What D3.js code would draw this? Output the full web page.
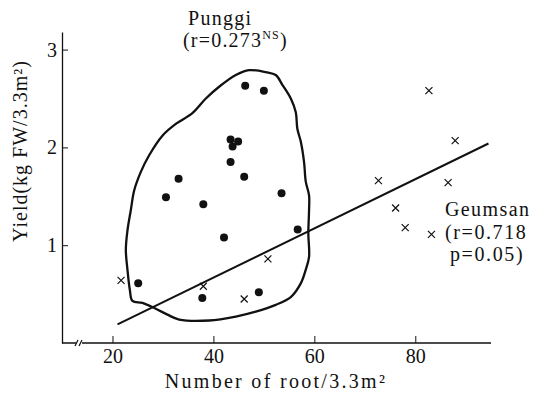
<!DOCTYPE html>
<html>
<head>
<meta charset="utf-8">
<script src="https://cdn.jsdelivr.net/npm/d3@7"></script>
<style>
  html, body { margin: 0; padding: 0; background: #fff; }
  svg { display: block; }
</style>
</head>
<body>
<svg id="chart" width="541" height="396"></svg>
<script>
// ---- Data ----
// Punggi (filled circles)
const punggiX = [46.3, 50.0, 43.4, 44.9, 43.8, 43.4, 46.1, 33.1, 30.6, 38.0, 53.5, 56.7, 42.1, 25.1, 37.8, 49.0];
const punggiY = [2.63, 2.58, 2.08, 2.06, 2.01, 1.85, 1.70, 1.68, 1.49, 1.42, 1.53, 1.16, 1.08, 0.61, 0.46, 0.52];
// Geumsan (crosses)
const geumsanX = [21.7, 38.0, 46.1, 50.8, 82.7, 87.9, 72.7, 86.5, 76.1, 78.0, 83.2];
const geumsanY = [0.64, 0.58, 0.45, 0.86, 2.58, 2.07, 1.66, 1.64, 1.38, 1.18, 1.11];
// Geumsan regression line endpoints
const regX = [21.0, 94.5];
const regY = [0.19, 2.04];
// Hand-drawn envelope around Punggi points
const envX = [47.07, 50.38, 52.36, 53.66, 55.33, 56.32, 56.63, 57.31, 57.96, 58.30, 58.95, 58.95, 58.81, 58.95, 58.30, 57.31, 55.33, 52.36, 48.40, 44.44, 39.15, 33.21, 30.89, 28.59, 25.94, 23.96, 23.45, 22.97, 22.65, 22.97, 23.64, 24.30, 25.62, 27.27, 29.90, 32.55, 35.84, 38.50, 41.13, 44.44];
const envY = [2.79, 2.77, 2.74, 2.64, 2.50, 2.36, 2.19, 2.06, 1.85, 1.65, 1.51, 1.36, 1.12, 0.88, 0.75, 0.61, 0.47, 0.39, 0.32, 0.27, 0.23, 0.24, 0.29, 0.35, 0.41, 0.43, 0.54, 0.75, 0.95, 1.15, 1.36, 1.56, 1.75, 1.92, 2.12, 2.24, 2.35, 2.50, 2.62, 2.74];
// Ticks
const xTicks = [20, 40, 60, 80];
const yTicks = [1, 2, 3];
const xDomain = [10, 95];
const yDomain = [0, 3.18];

// ---- Chart ----
const FONT = "Liberation Serif";
const INK = "#111";
const svg = d3.select("#chart");
const x = d3.scaleLinear().domain(xDomain).range([62, 491]);
const y = d3.scaleLinear().domain(yDomain).range([343, 32]);

// Axes
const xAxis = svg.append("g").attr("transform", `translate(0,${y(0)})`)
  .call(d3.axisBottom(x).tickValues(xTicks).tickFormat(d3.format("d"))
    .tickSizeInner(-7).tickSizeOuter(0).tickPadding(6));
xAxis.attr("font-family", FONT).attr("font-size", 20);
xAxis.select(".domain").remove();
xAxis.selectAll("line").attr("stroke", INK).attr("stroke-width", 1);
xAxis.selectAll("text").attr("fill", INK);

const yAxis = svg.append("g").attr("transform", `translate(${x(xDomain[0])},0)`)
  .call(d3.axisLeft(y).tickValues(yTicks).tickFormat(d3.format("d"))
    .tickSizeInner(-6).tickSizeOuter(0).tickPadding(5));
yAxis.attr("font-family", FONT).attr("font-size", 20);
yAxis.select(".domain").attr("stroke", INK).attr("stroke-width", 1.3);
yAxis.selectAll("line").attr("stroke", INK).attr("stroke-width", 1);
yAxis.selectAll("text").attr("fill", INK);

// x axis baseline with break
const x0 = x(xDomain[0]), x1 = x(xDomain[1]), yb = y(0);
svg.append("path")
  .attr("d", `M${x0},${yb}H${x0 + 14}M${x0 + 20},${yb}H${x1}`)
  .attr("stroke", INK).attr("stroke-width", 1.3).attr("fill", "none");
svg.append("path")
  .attr("d", `M${x0 + 13},${yb + 3}L${x0 + 16},${yb - 3}M${x0 + 17},${yb + 3}L${x0 + 20},${yb - 3}`)
  .attr("stroke", INK).attr("stroke-width", 1.2).attr("fill", "none");

// Envelope
const envPts = envX.map((v, i) => [x(v), y(envY[i])]);
svg.append("path")
  .attr("d", d3.line().curve(d3.curveCatmullRomClosed.alpha(0.5))(envPts))
  .attr("fill", "none").attr("stroke", INK).attr("stroke-width", 2.3);

// Regression line
svg.append("line")
  .attr("x1", x(regX[0])).attr("y1", y(regY[0]))
  .attr("x2", x(regX[1])).attr("y2", y(regY[1]))
  .attr("stroke", INK).attr("stroke-width", 2);

// Punggi points
svg.append("g").selectAll("circle")
  .data(punggiX.map((v, i) => [v, punggiY[i]]))
  .join("circle")
  .attr("cx", d => x(d[0])).attr("cy", d => y(d[1])).attr("r", 4)
  .attr("fill", INK);

// Geumsan crosses
const cs = 3.5;
svg.append("g").selectAll("path")
  .data(geumsanX.map((v, i) => [v, geumsanY[i]]))
  .join("path")
  .attr("d", d => {
    const cx = x(d[0]), cy = y(d[1]);
    return `M${cx - cs},${cy - cs}L${cx + cs},${cy + cs}M${cx + cs},${cy - cs}L${cx - cs},${cy + cs}`;
  })
  .attr("stroke", INK).attr("stroke-width", 1.2).attr("fill", "none");

// Annotations
const ann = svg.append("g").attr("font-size", 20).attr("font-family", FONT).attr("fill", INK);
ann.append("text").attr("x", 188).attr("y", 25).attr("letter-spacing", 1.3).text("Punggi");
const t2 = ann.append("text").attr("x", 183).attr("y", 47).attr("letter-spacing", 1.2);
t2.append("tspan").text("(r=0.273");
t2.append("tspan").attr("font-size", 12).attr("dy", -8).text("NS");
t2.append("tspan").attr("dy", 8).text(")");

ann.append("text").attr("x", 445).attr("y", 216).attr("letter-spacing", 1.4).text("Geumsan");
ann.append("text").attr("x", 445).attr("y", 239).attr("letter-spacing", 1.6).text("(r=0.718");
ann.append("text").attr("x", 450).attr("y", 261).attr("letter-spacing", 1.6).text("p=0.05)");

// Axis titles
svg.append("text")
  .attr("x", 276).attr("y", 388).attr("text-anchor", "middle")
  .attr("font-family", FONT).attr("fill", INK)
  .attr("font-size", 20).attr("letter-spacing", 2.3)
  .text("Number of root/3.3m²");
svg.append("text")
  .attr("transform", "translate(27,151) rotate(-90)")
  .attr("text-anchor", "middle")
  .attr("font-family", FONT).attr("fill", INK)
  .attr("font-size", 20).attr("letter-spacing", 1.0)
  .text("Yield(kg FW/3.3m²)");
</script>
</body>
</html>
